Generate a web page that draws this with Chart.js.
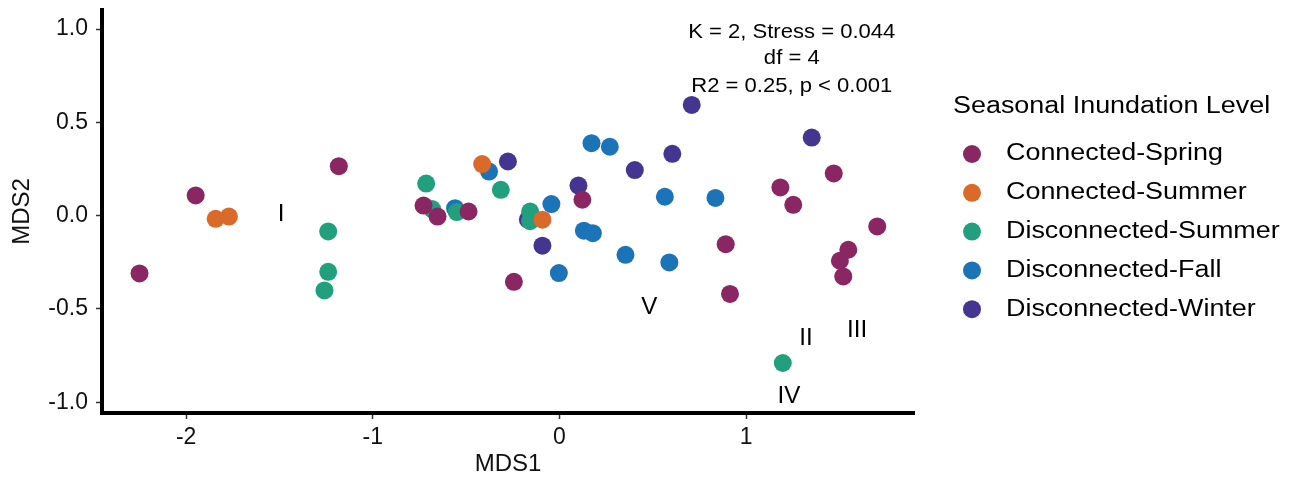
<!DOCTYPE html>
<html lang="en">
<head>
<meta charset="UTF-8">
<title>NMDS — Seasonal Inundation Level</title>
<script src="https://cdn.jsdelivr.net/npm/chart.js@4.4.0/dist/chart.umd.min.js"></script>
<style>
html,body{margin:0;padding:0;background:#fff}
#wrap{position:relative;width:1298px;height:481px}
</style>
</head>
<body>
<div id="wrap"><canvas id="nmds"></canvas></div>
<script>
// groups + colours
const groups = ["Connected-Spring", "Connected-Summer", "Disconnected-Summer", "Disconnected-Fall", "Disconnected-Winter"];
const groupColors = ["#8a2661", "#da6a2a", "#22a07e", "#1a74b7", "#433590"];

// site scores (MDS1, MDS2)
const springX = [-2.25, -1.949, -1.182, -0.728, -0.653, -0.487, -0.244, 0.123, 1.184, 1.253, 1.470, 1.703, 0.891, 0.914, 1.548, 1.503, 1.521];
const springY = [-0.31, 0.108, 0.265, 0.054, -0.005, 0.022, -0.355, 0.085, 0.151, 0.058, 0.226, -0.058, -0.153, -0.420, -0.183, -0.242, -0.326];
const cSummerX = [-1.842, -1.771, -0.414, -0.091];
const cSummerY = [-0.017, -0.005, 0.276, -0.022];
const dSummerX = [-0.714, -0.682, -0.550, -0.314, -1.239, -1.239, -1.259, -0.157, -0.157, 1.197];
const dSummerY = [0.172, 0.035, 0.019, 0.138, -0.085, -0.301, -0.401, 0.022, -0.030, -0.790];
const fallX = [-0.559, -0.377, 0.172, 0.270, -0.043, 0.565, 0.836, 0.131, 0.179, 0.354, 0.589, -0.003];
const fallY = [0.040, 0.236, 0.388, 0.369, 0.062, 0.101, 0.095, -0.081, -0.094, -0.210, -0.251, -0.308];
const winterX = [-0.276, 0.709, 1.352, 0.605, 0.404, 0.102, -0.169, -0.091];
const winterY = [0.290, 0.593, 0.418, 0.331, 0.244, 0.161, -0.022, -0.161];

// cluster labels
const regionLabels = ["I", "II", "III", "IV", "V"];
const regionX = [-1.491, 1.321, 1.595, 1.230, 0.481];
const regionY = [0.004, -0.662, -0.619, -0.972, -0.496];

// stats annotation
const statsLines = ["K = 2, Stress = 0.044", "df = 4", "R2 = 0.25, p < 0.001"];
const statsX = 1.245;
const statsY = [0.985, 0.841, 0.691];

// axis ticks
const xTicks = [-2, -1, 0, 1];
const yTicks = [-1, -0.5, 0, 0.5, 1];

const FONT = "'Liberation Sans', Arial, sans-serif";

const series = [
  [springX, springY], [cSummerX, cSummerY], [dSummerX, dSummerY], [fallX, fallY], [winterX, winterY]
];
const datasets = series.map(([xs, ys], i) => ({
  label: groups[i],
  data: xs.map((x, j) => ({ x, y: ys[j] })),
  backgroundColor: groupColors[i],
  borderWidth: 0,
  pointRadius: 9,
  pointHoverRadius: 9
}));

// text drawn slightly stretched sideways, like the exported figure
function stretchText(ctx, txt, x, y, size, sx, align) {
  ctx.save();
  ctx.font = `${size}px ${FONT}`;
  ctx.fillStyle = "#000";
  ctx.textBaseline = "middle";
  const w = ctx.measureText(txt).width * sx;
  let left = x;
  if (align === "center") left = x - w / 2;
  ctx.translate(left, y);
  ctx.scale(sx, 1);
  ctx.textAlign = "left";
  ctx.fillText(txt, 0, 0);
  ctx.restore();
}

const annotations = {
  id: "annotations",
  afterDatasetsDraw(chart) {
    const { ctx, scales: { x, y } } = chart;
    regionLabels.forEach((t, i) => {
      stretchText(ctx, t, x.getPixelForValue(regionX[i]), y.getPixelForValue(regionY[i]), 23, 1.05, "center");
    });
    statsLines.forEach((t, i) => {
      stretchText(ctx, t, x.getPixelForValue(statsX), y.getPixelForValue(statsY[i]), 21, 1.05, "center");
    });
  }
};

const sideLegend = {
  id: "sideLegend",
  afterDraw(chart) {
    const ctx = chart.ctx;
    stretchText(ctx, "Seasonal Inundation Level", 953, 107, 23, 1.17, "left");
    chart.data.datasets.forEach((ds, i) => {
      const cy = 154 + i * 38.8;
      ctx.save();
      ctx.fillStyle = ds.backgroundColor;
      ctx.beginPath();
      ctx.arc(972, cy, 9, 0, Math.PI * 2);
      ctx.fill();
      ctx.restore();
      stretchText(ctx, ds.label, 1006, cy, 23, 1.17, "left");
    });
  }
};

new Chart(document.getElementById("nmds"), {
  type: "scatter",
  data: { datasets },
  plugins: [annotations, sideLegend],
  options: {
    responsive: true,
    maintainAspectRatio: false,
    animation: false,
    layout: { padding: { left: 0, right: 384, top: 10, bottom: 0 } },
    plugins: { legend: { display: false }, tooltip: { enabled: false } },
    scales: {
      x: {
        min: -2.451, max: 1.90,
        afterBuildTicks: s => { s.ticks = xTicks.map(v => ({ value: v })); },
        afterFit: s => { s.height = 68; s.paddingLeft = 0; s.paddingRight = 0; },
        grid: { drawOnChartArea: false, drawTicks: true, tickLength: 6, tickColor: "#333", tickWidth: 1.5 },
        border: { display: true, color: "#000", width: 4 },
        ticks: { color: "#111", font: { family: FONT, size: 23 }, padding: 5, callback: v => String(v) },
        title: { display: true, text: "MDS1", color: "#111", font: { family: FONT, size: 24 }, padding: { top: 0, bottom: 2 } }
      },
      y: {
        min: -1.058, max: 1.102,
        afterBuildTicks: s => { s.ticks = yTicks.map(v => ({ value: v })); },
        afterFit: s => { s.width = 102; s.paddingTop = 0; s.paddingBottom = 0; },
        grid: { drawOnChartArea: false, drawTicks: true, tickLength: 6, tickColor: "#333", tickWidth: 1.5 },
        border: { display: true, color: "#000", width: 4 },
        ticks: { color: "#111", font: { family: FONT, size: 23 }, padding: 8, callback: v => v.toFixed(1) },
        title: { display: true, text: "MDS2", color: "#111", font: { family: FONT, size: 24 }, padding: { top: 8, bottom: 0 } }
      }
    }
  }
});
</script>
</body>
</html>
